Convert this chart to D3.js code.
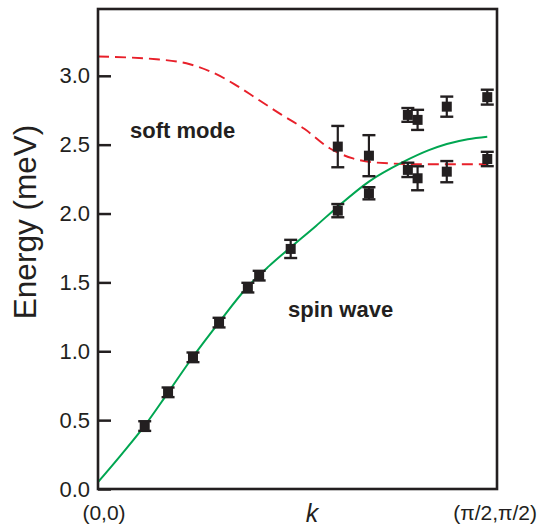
<!DOCTYPE html>
<html>
<head>
<meta charset="utf-8">
<script src="https://cdn.jsdelivr.net/npm/d3@7"></script>
<style>
  html, body { margin: 0; padding: 0; background: #fff; }
  svg { display: block; font-family: "Liberation Sans", Arial, Helvetica, sans-serif; }
</style>
</head>
<body>
<svg id="chart" width="538" height="527"></svg>
<script>
// ---- data ----
const yTicks = [0, 0.5, 1.0, 1.5, 2.0, 2.5, 3.0];
const xLabels = ["(0,0)", "(\u03c0/2,\u03c0/2)"];

// measured points: k (fraction of (pi/2,pi/2)), energy, error
const pointK   = [0.12, 0.18, 0.244, 0.311, 0.385, 0.414, 0.495, 0.616, 0.616, 0.696, 0.696, 0.796, 0.821, 0.796, 0.821, 0.896, 0.896, 1.0, 1.0];
const pointE   = [0.457, 0.702, 0.956, 1.208, 1.462, 1.549, 1.743, 2.021, 2.486, 2.42, 2.147, 2.716, 2.68, 2.317, 2.256, 2.776, 2.304, 2.845, 2.396];
const pointErr = [0.035, 0.035, 0.035, 0.035, 0.035, 0.035, 0.066, 0.048, 0.15, 0.149, 0.044, 0.05, 0.073, 0.052, 0.087, 0.073, 0.077, 0.054, 0.052];

// spin-wave curve (green)
const spinK = [0, 0.06, 0.12, 0.18, 0.244, 0.311, 0.385, 0.44, 0.495, 0.56, 0.616, 0.696, 0.783, 0.85, 0.896, 0.95, 1.0];
const spinE = [0.05, 0.25, 0.46, 0.70, 0.96, 1.21, 1.47, 1.62, 1.755, 1.91, 2.05, 2.232, 2.373, 2.46, 2.505, 2.54, 2.558];

// soft-mode curve (red dashed)
const softK = [0, 0.15, 0.236, 0.29, 0.35, 0.41, 0.47, 0.53, 0.595, 0.655, 0.715, 0.833, 1.0];
const softE = [3.14, 3.12, 3.084, 3.03, 2.94, 2.83, 2.72, 2.615, 2.474, 2.40, 2.37, 2.358, 2.358];

const labelSoft = "soft mode";
const labelSpin = "spin wave";

// ---- layout ----
const svg = d3.select("#chart");
const L = 98, R = 497, T = 9, B = 489;
const ink = "#231f20";

const x = d3.scaleLinear().domain([0, 1.025]).range([L, R]);
const y = d3.scaleLinear().domain([0, 3.485]).range([B, T]);

// curves
const line = d3.line().x(d => x(d[0])).y(d => y(d[1])).curve(d3.curveMonotoneX);
svg.append("path")
  .attr("d", line(softK.map((k, i) => [k, softE[i]])))
  .attr("fill", "none").attr("stroke", "#e8202a").attr("stroke-width", 1.9)
  .attr("stroke-dasharray", "11,6");
svg.append("path")
  .attr("d", line(spinK.map((k, i) => [k, spinE[i]])))
  .attr("fill", "none").attr("stroke", "#00a651").attr("stroke-width", 2);

// points with error bars
const pts = pointK.map((k, i) => ({k, e: pointE[i], err: pointErr[i]}));
const g = svg.append("g").selectAll("g").data(pts).join("g");
g.append("line")
  .attr("x1", d => x(d.k)).attr("x2", d => x(d.k))
  .attr("y1", d => y(d.e - d.err)).attr("y2", d => y(d.e + d.err))
  .attr("stroke", ink).attr("stroke-width", 2.2);
[-1, 1].forEach(s => {
  g.append("line")
    .attr("x1", d => x(d.k) - 6.5).attr("x2", d => x(d.k) + 6.5)
    .attr("y1", d => y(d.e + s * d.err)).attr("y2", d => y(d.e + s * d.err))
    .attr("stroke", ink).attr("stroke-width", 2.4);
});
g.append("rect")
  .attr("x", d => x(d.k) - 5).attr("y", d => y(d.e) - 5)
  .attr("width", 10).attr("height", 10)
  .attr("fill", ink);

// y axis (ticks inward)
const yAxis = d3.axisLeft(y).tickValues(yTicks).tickFormat(d3.format(".1f"))
  .tickSizeInner(-13).tickSizeOuter(0).tickPadding(8);
const ya = svg.append("g").attr("transform", `translate(${L},0)`).call(yAxis);
ya.select(".domain").remove();
ya.selectAll(".tick line").attr("stroke", ink).attr("stroke-width", 2.5);
ya.selectAll(".tick text").attr("fill", ink).attr("font-size", 22)
  .attr("font-family", "'Liberation Sans', Arial, sans-serif");

// frame
svg.append("rect").attr("x", L).attr("y", T).attr("width", R - L).attr("height", B - T)
  .attr("fill", "none").attr("stroke", ink).attr("stroke-width", 2.6);

// axis titles
svg.append("text")
  .attr("transform", `translate(36,222) rotate(-90)`)
  .attr("text-anchor", "middle").attr("font-size", 31.5).attr("fill", ink)
  .text("Energy (meV)");
svg.append("text").attr("x", 312).attr("y", 522).attr("text-anchor", "middle")
  .attr("font-size", 25).attr("font-style", "italic").attr("fill", ink).text("k");
svg.append("text").attr("x", x(0) + 6).attr("y", 520).attr("text-anchor", "middle")
  .attr("font-size", 21).attr("fill", ink).text(xLabels[0]);
svg.append("text").attr("x", 537).attr("y", 520).attr("text-anchor", "end")
  .attr("font-size", 21).attr("fill", ink).text(xLabels[1]);

// annotations
svg.append("text").attr("x", 130).attr("y", 138).attr("font-size", 22)
  .attr("font-weight", "bold").attr("fill", ink).text(labelSoft);
svg.append("text").attr("x", 288).attr("y", 317).attr("font-size", 22)
  .attr("font-weight", "bold").attr("fill", ink).text(labelSpin);
</script>
</body>
</html>
